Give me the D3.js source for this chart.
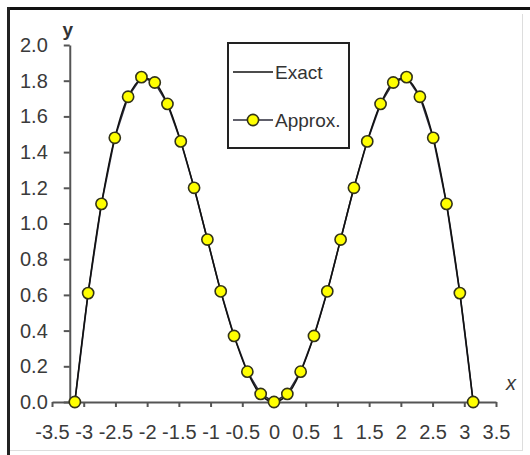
<!DOCTYPE html>
<meta charset="utf-8">
<head>
<title>Exact vs approx</title>
<style>
body { margin: 0; background: #fff; }
svg { display: block; font-family: "Liberation Sans", Arial, sans-serif; }
.axis path, .axis line { stroke: #555; stroke-width: 2px; }
.axis text { fill: #3a3a3a; font-size: 20px; }
</style>
</head>
<body>
<div id="chart"></div>
<script src="https://cdn.jsdelivr.net/npm/d3@7"></script>
<script>

// values
var xs = [-3.14, -2.93, -2.72, -2.51, -2.30, -2.09, -1.88, -1.68, -1.47, -1.26, -1.05, -0.84, -0.63, -0.42, -0.21,
          0, 0.21, 0.42, 0.63, 0.84, 1.05, 1.26, 1.47, 1.68, 1.88, 2.09, 2.30, 2.51, 2.72, 2.93, 3.14];
var exactY = [0, 0.61, 1.11, 1.48, 1.71, 1.81, 1.79, 1.67, 1.46, 1.20, 0.91, 0.62, 0.37, 0.17, 0.04,
              0, 0.04, 0.17, 0.37, 0.62, 0.91, 1.20, 1.46, 1.67, 1.79, 1.81, 1.71, 1.48, 1.11, 0.61, 0];
var approxY = [0, 0.61, 1.11, 1.48, 1.71, 1.82, 1.79, 1.67, 1.46, 1.20, 0.91, 0.62, 0.37, 0.17, 0.045,
               0, 0.045, 0.17, 0.37, 0.62, 0.91, 1.20, 1.46, 1.67, 1.79, 1.82, 1.71, 1.48, 1.11, 0.61, 0];
var xTicks = [-3.5, -3, -2.5, -2, -1.5, -1, -0.5, 0, 0.5, 1, 1.5, 2, 2.5, 3, 3.5];
var yTicks = [0, 0.2, 0.4, 0.6, 0.8, 1.0, 1.2, 1.4, 1.6, 1.8, 2.0];
var seriesNames = ["Exact", "Approx."];

var width = 530,
    height = 455;

var yAxisAt = -3.22;

var svg = d3.select("#chart").append("svg")
    .attr("width", width)
    .attr("height", height);

// frame
svg.append("line").attr("x1", 7).attr("x2", 530).attr("y1", 8.5).attr("y2", 8.5)
    .attr("stroke", "#111").attr("stroke-width", 3);
svg.append("line").attr("x1", 8.5).attr("x2", 8.5).attr("y1", 7).attr("y2", 455)
    .attr("stroke", "#222").attr("stroke-width", 3);
svg.append("line").attr("x1", 522.5).attr("x2", 522.5).attr("y1", 14).attr("y2", 451)
    .attr("stroke", "#ddd").attr("stroke-width", 1);
svg.append("line").attr("x1", 10).attr("x2", 523).attr("y1", 450.5).attr("y2", 450.5)
    .attr("stroke", "#ddd").attr("stroke-width", 1);

var x = d3.scaleLinear().domain([-3.5, 3.5]).range([52, 496]);
var y = d3.scaleLinear().domain([0, 2]).range([402, 45]);

svg.append("g")
    .attr("class", "axis")
    .attr("transform", "translate(0," + y(0) + ")")
    .call(d3.axisBottom(x).tickValues(xTicks).tickSize(5).tickSizeOuter(0).tickPadding(18)
      .tickFormat(function(d) { return String(d); }));

svg.append("g")
    .attr("class", "axis")
    .attr("transform", "translate(" + x(yAxisAt) + ",0)")
    .call(d3.axisLeft(y).tickValues(yTicks).tickSize(6).tickSizeOuter(0).tickPadding(16)
      .tickFormat(d3.format(".1f")));

svg.append("text").text("y")
    .attr("x", x(yAxisAt) - 2).attr("y", 36)
    .attr("text-anchor", "middle")
    .attr("font-size", 19).attr("font-weight", "bold").attr("fill", "#333");

svg.append("text").text("x")
    .attr("x", 511).attr("y", 390)
    .attr("text-anchor", "middle")
    .attr("font-size", 20).attr("font-style", "italic").attr("fill", "#3a3a3a");

var exact = xs.map(function(d, i) { return [d, exactY[i]]; });
var approx = xs.map(function(d, i) { return [d, approxY[i]]; });

var line = d3.line()
    .x(function(d) { return x(d[0]); })
    .y(function(d) { return y(d[1]); });

svg.append("path")
    .datum(approx)
    .attr("fill", "none")
    .attr("stroke", "#2b2b3a")
    .attr("stroke-width", 1.6)
    .attr("d", line);

svg.append("path")
    .datum(exact)
    .attr("fill", "none")
    .attr("stroke", "#111")
    .attr("stroke-width", 1.5)
    .attr("d", line.curve(d3.curveCatmullRom));

svg.selectAll("circle.pt")
    .data(approx)
    .enter().append("circle")
    .attr("class", "pt")
    .attr("cx", function(d) { return x(d[0]); })
    .attr("cy", function(d) { return y(d[1]); })
    .attr("r", 5.6)
    .attr("fill", "#ffff00")
    .attr("stroke", "#333318")
    .attr("stroke-width", 1.6);

// legend
var lg = svg.append("g");
lg.append("rect")
    .attr("x", 228).attr("y", 43).attr("width", 121).attr("height", 105)
    .attr("fill", "#fff").attr("stroke", "#222").attr("stroke-width", 2);

lg.append("line").attr("x1", 233).attr("x2", 273).attr("y1", 72).attr("y2", 72)
    .attr("stroke", "#111").attr("stroke-width", 1.5);
lg.append("line").attr("x1", 233).attr("x2", 273).attr("y1", 120).attr("y2", 120)
    .attr("stroke", "#2b2b3a").attr("stroke-width", 1.6);
lg.append("circle").attr("cx", 253).attr("cy", 120).attr("r", 5.6)
    .attr("fill", "#ffff00").attr("stroke", "#333318").attr("stroke-width", 1.6);

lg.selectAll("text.lab")
    .data(seriesNames)
    .enter().append("text")
    .attr("class", "lab")
    .attr("x", 275)
    .attr("y", function(d, i) { return 72 + i * 48; })
    .attr("dy", "0.35em")
    .attr("font-size", 19)
    .attr("fill", "#333")
    .text(function(d) { return d; });

</script>
</body>
